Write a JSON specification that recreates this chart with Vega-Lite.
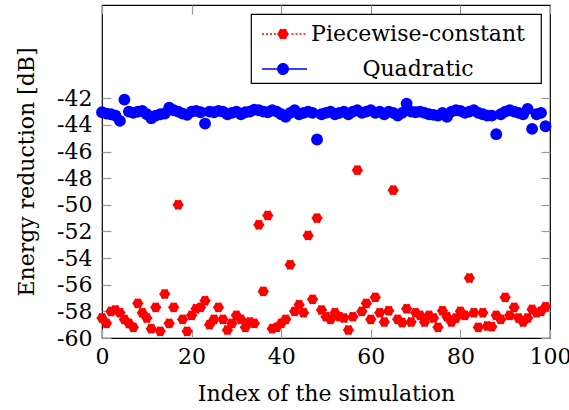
{
"$schema": "https://vega.github.io/schema/vega-lite/v6.json",
"width": 448, "height": 333,
"autosize": "none",
"padding": {"left": 102, "top": 5, "right": 19, "bottom": 72},
"config": {
  "view": {"stroke": "black", "strokeWidth": 1.2},
  "font": "DejaVu Serif",
  "axis": {"domain": false, "grid": false, "labelFont": "DejaVu Serif", "labelFontSize": 22, "labelColor": "black", "tickColor": "#999999", "tickWidth": 1.2, "tickSize": -9, "titleFont": "DejaVu Serif", "titleFontSize": 22, "titleFontWeight": "normal", "titleColor": "black", "labelFlush": false, "labelOverlap": false},
  "legend": {"orient": "top-right", "offset": 9, "padding": 3, "strokeColor": "black", "strokeWidth": 1.2, "fillColor": "white", "labelFont": "DejaVu Serif", "labelFontSize": 22, "labelColor": "black", "labelLimit": 0, "symbolSize": 1156, "symbolStrokeWidth": 0, "labelAlign": "center", "labelOffset": 130, "rowPadding": 7, "cornerRadius": 0}
},
"data": {"values": [
{"i":0,"s":"Piecewise-constant","v":-58.5},{"i":1,"s":"Piecewise-constant","v":-58.9},{"i":2,"s":"Piecewise-constant","v":-58.0},{"i":3,"s":"Piecewise-constant","v":-57.9},{"i":4,"s":"Piecewise-constant","v":-58.1},{"i":5,"s":"Piecewise-constant","v":-58.6},{"i":6,"s":"Piecewise-constant","v":-58.9},{"i":7,"s":"Piecewise-constant","v":-59.2},{"i":8,"s":"Piecewise-constant","v":-57.4},{"i":9,"s":"Piecewise-constant","v":-58.1},
{"i":10,"s":"Piecewise-constant","v":-58.5},{"i":11,"s":"Piecewise-constant","v":-59.3},{"i":12,"s":"Piecewise-constant","v":-57.7},{"i":13,"s":"Piecewise-constant","v":-59.5},{"i":14,"s":"Piecewise-constant","v":-56.7},{"i":15,"s":"Piecewise-constant","v":-58.9},{"i":16,"s":"Piecewise-constant","v":-57.7},{"i":17,"s":"Piecewise-constant","v":-50.0},{"i":18,"s":"Piecewise-constant","v":-58.6},{"i":19,"s":"Piecewise-constant","v":-59.5},
{"i":20,"s":"Piecewise-constant","v":-58.3},{"i":21,"s":"Piecewise-constant","v":-57.8},{"i":22,"s":"Piecewise-constant","v":-57.7},{"i":23,"s":"Piecewise-constant","v":-57.2},{"i":24,"s":"Piecewise-constant","v":-59.0},{"i":25,"s":"Piecewise-constant","v":-58.6},{"i":26,"s":"Piecewise-constant","v":-57.7},{"i":27,"s":"Piecewise-constant","v":-58.6},{"i":28,"s":"Piecewise-constant","v":-59.4},{"i":29,"s":"Piecewise-constant","v":-58.9},
{"i":30,"s":"Piecewise-constant","v":-58.3},{"i":31,"s":"Piecewise-constant","v":-58.6},{"i":32,"s":"Piecewise-constant","v":-59.2},{"i":33,"s":"Piecewise-constant","v":-58.8},{"i":34,"s":"Piecewise-constant","v":-58.9},{"i":35,"s":"Piecewise-constant","v":-51.5},{"i":36,"s":"Piecewise-constant","v":-56.5},{"i":37,"s":"Piecewise-constant","v":-50.8},{"i":38,"s":"Piecewise-constant","v":-59.3},{"i":39,"s":"Piecewise-constant","v":-59.2},
{"i":40,"s":"Piecewise-constant","v":-58.9},{"i":41,"s":"Piecewise-constant","v":-58.6},{"i":42,"s":"Piecewise-constant","v":-54.5},{"i":43,"s":"Piecewise-constant","v":-58.0},{"i":44,"s":"Piecewise-constant","v":-57.5},{"i":45,"s":"Piecewise-constant","v":-58.1},{"i":46,"s":"Piecewise-constant","v":-52.3},{"i":47,"s":"Piecewise-constant","v":-57.1},{"i":48,"s":"Piecewise-constant","v":-51.0},{"i":49,"s":"Piecewise-constant","v":-57.9},
{"i":50,"s":"Piecewise-constant","v":-58.4},{"i":51,"s":"Piecewise-constant","v":-58.6},{"i":52,"s":"Piecewise-constant","v":-58.1},{"i":53,"s":"Piecewise-constant","v":-58.4},{"i":54,"s":"Piecewise-constant","v":-58.5},{"i":55,"s":"Piecewise-constant","v":-59.4},{"i":56,"s":"Piecewise-constant","v":-58.4},{"i":57,"s":"Piecewise-constant","v":-47.4},{"i":58,"s":"Piecewise-constant","v":-58.0},{"i":59,"s":"Piecewise-constant","v":-57.4},
{"i":60,"s":"Piecewise-constant","v":-58.6},{"i":61,"s":"Piecewise-constant","v":-56.95},{"i":62,"s":"Piecewise-constant","v":-58.1},{"i":63,"s":"Piecewise-constant","v":-58.8},{"i":64,"s":"Piecewise-constant","v":-57.95},{"i":65,"s":"Piecewise-constant","v":-48.9},{"i":66,"s":"Piecewise-constant","v":-58.6},{"i":67,"s":"Piecewise-constant","v":-58.85},{"i":68,"s":"Piecewise-constant","v":-57.8},{"i":69,"s":"Piecewise-constant","v":-58.8},
{"i":70,"s":"Piecewise-constant","v":-58.1},{"i":71,"s":"Piecewise-constant","v":-58.3},{"i":72,"s":"Piecewise-constant","v":-58.8},{"i":73,"s":"Piecewise-constant","v":-58.3},{"i":74,"s":"Piecewise-constant","v":-58.5},{"i":75,"s":"Piecewise-constant","v":-59.2},{"i":76,"s":"Piecewise-constant","v":-57.95},{"i":77,"s":"Piecewise-constant","v":-58.4},{"i":78,"s":"Piecewise-constant","v":-58.8},{"i":79,"s":"Piecewise-constant","v":-58.5},
{"i":80,"s":"Piecewise-constant","v":-58.0},{"i":81,"s":"Piecewise-constant","v":-58.3},{"i":82,"s":"Piecewise-constant","v":-55.5},{"i":83,"s":"Piecewise-constant","v":-58.1},{"i":84,"s":"Piecewise-constant","v":-59.2},{"i":85,"s":"Piecewise-constant","v":-58.1},{"i":86,"s":"Piecewise-constant","v":-59.1},{"i":87,"s":"Piecewise-constant","v":-59.15},{"i":88,"s":"Piecewise-constant","v":-58.3},{"i":89,"s":"Piecewise-constant","v":-58.6},
{"i":90,"s":"Piecewise-constant","v":-56.95},{"i":91,"s":"Piecewise-constant","v":-58.3},{"i":92,"s":"Piecewise-constant","v":-57.7},{"i":93,"s":"Piecewise-constant","v":-58.5},{"i":94,"s":"Piecewise-constant","v":-58.8},{"i":95,"s":"Piecewise-constant","v":-58.5},{"i":96,"s":"Piecewise-constant","v":-57.85},{"i":97,"s":"Piecewise-constant","v":-58.1},{"i":98,"s":"Piecewise-constant","v":-58.0},{"i":99,"s":"Piecewise-constant","v":-57.65},
{"i":0,"s":"Quadratic","v":-43.05},{"i":1,"s":"Quadratic","v":-43.15},{"i":2,"s":"Quadratic","v":-43.2},{"i":3,"s":"Quadratic","v":-43.3},{"i":4,"s":"Quadratic","v":-43.7},{"i":5,"s":"Quadratic","v":-42.1},{"i":6,"s":"Quadratic","v":-43.0},{"i":7,"s":"Quadratic","v":-43.1},{"i":8,"s":"Quadratic","v":-43.0},{"i":9,"s":"Quadratic","v":-42.95},
{"i":10,"s":"Quadratic","v":-43.2},{"i":11,"s":"Quadratic","v":-43.5},{"i":12,"s":"Quadratic","v":-43.3},{"i":13,"s":"Quadratic","v":-43.2},{"i":14,"s":"Quadratic","v":-43.15},{"i":15,"s":"Quadratic","v":-42.7},{"i":16,"s":"Quadratic","v":-42.9},{"i":17,"s":"Quadratic","v":-43.0},{"i":18,"s":"Quadratic","v":-43.15},{"i":19,"s":"Quadratic","v":-43.25},
{"i":20,"s":"Quadratic","v":-43.0},{"i":21,"s":"Quadratic","v":-42.95},{"i":22,"s":"Quadratic","v":-43.05},{"i":23,"s":"Quadratic","v":-43.9},{"i":24,"s":"Quadratic","v":-43.0},{"i":25,"s":"Quadratic","v":-43.05},{"i":26,"s":"Quadratic","v":-42.95},{"i":27,"s":"Quadratic","v":-43.0},{"i":28,"s":"Quadratic","v":-43.2},{"i":29,"s":"Quadratic","v":-43.1},
{"i":30,"s":"Quadratic","v":-43.0},{"i":31,"s":"Quadratic","v":-43.2},{"i":32,"s":"Quadratic","v":-43.05},{"i":33,"s":"Quadratic","v":-43.0},{"i":34,"s":"Quadratic","v":-42.85},{"i":35,"s":"Quadratic","v":-42.9},{"i":36,"s":"Quadratic","v":-43.0},{"i":37,"s":"Quadratic","v":-43.05},{"i":38,"s":"Quadratic","v":-42.9},{"i":39,"s":"Quadratic","v":-43.0},
{"i":40,"s":"Quadratic","v":-43.2},{"i":41,"s":"Quadratic","v":-43.4},{"i":42,"s":"Quadratic","v":-43.1},{"i":43,"s":"Quadratic","v":-42.9},{"i":44,"s":"Quadratic","v":-43.2},{"i":45,"s":"Quadratic","v":-43.1},{"i":46,"s":"Quadratic","v":-43.0},{"i":47,"s":"Quadratic","v":-43.1},{"i":48,"s":"Quadratic","v":-45.1},{"i":49,"s":"Quadratic","v":-43.2},
{"i":50,"s":"Quadratic","v":-43.1},{"i":51,"s":"Quadratic","v":-43.0},{"i":52,"s":"Quadratic","v":-43.2},{"i":53,"s":"Quadratic","v":-43.1},{"i":54,"s":"Quadratic","v":-43.0},{"i":55,"s":"Quadratic","v":-43.2},{"i":56,"s":"Quadratic","v":-43.0},{"i":57,"s":"Quadratic","v":-42.9},{"i":58,"s":"Quadratic","v":-43.1},{"i":59,"s":"Quadratic","v":-43.0},
{"i":60,"s":"Quadratic","v":-42.9},{"i":61,"s":"Quadratic","v":-43.1},{"i":62,"s":"Quadratic","v":-43.0},{"i":63,"s":"Quadratic","v":-43.2},{"i":64,"s":"Quadratic","v":-43.0},{"i":65,"s":"Quadratic","v":-43.1},{"i":66,"s":"Quadratic","v":-43.3},{"i":67,"s":"Quadratic","v":-43.1},{"i":68,"s":"Quadratic","v":-42.4},{"i":69,"s":"Quadratic","v":-43.0},
{"i":70,"s":"Quadratic","v":-43.05},{"i":71,"s":"Quadratic","v":-43.0},{"i":72,"s":"Quadratic","v":-43.1},{"i":73,"s":"Quadratic","v":-43.2},{"i":74,"s":"Quadratic","v":-43.25},{"i":75,"s":"Quadratic","v":-43.3},{"i":76,"s":"Quadratic","v":-43.1},{"i":77,"s":"Quadratic","v":-43.4},{"i":78,"s":"Quadratic","v":-43.0},{"i":79,"s":"Quadratic","v":-42.9},
{"i":80,"s":"Quadratic","v":-42.95},{"i":81,"s":"Quadratic","v":-43.1},{"i":82,"s":"Quadratic","v":-43.0},{"i":83,"s":"Quadratic","v":-42.9},{"i":84,"s":"Quadratic","v":-43.1},{"i":85,"s":"Quadratic","v":-43.2},{"i":86,"s":"Quadratic","v":-43.3},{"i":87,"s":"Quadratic","v":-43.3},{"i":88,"s":"Quadratic","v":-44.7},{"i":89,"s":"Quadratic","v":-43.2},
{"i":90,"s":"Quadratic","v":-43.0},{"i":91,"s":"Quadratic","v":-42.9},{"i":92,"s":"Quadratic","v":-43.0},{"i":93,"s":"Quadratic","v":-43.1},{"i":94,"s":"Quadratic","v":-43.2},{"i":95,"s":"Quadratic","v":-42.8},{"i":96,"s":"Quadratic","v":-44.3},{"i":97,"s":"Quadratic","v":-43.2},{"i":98,"s":"Quadratic","v":-43.1},{"i":99,"s":"Quadratic","v":-44.1}
]},
"layer": [
  {
    "transform": [{"filter": "datum.s === 'Piecewise-constant'"}],
    "mark": {"type": "point", "filled": true, "opacity": 1, "color": "#ff0000", "size": 130, "shape": "M1,0L0.693,0.4L0.5,0.866L0,0.8L-0.5,0.866L-0.693,0.4L-1,0L-0.693,-0.4L-0.5,-0.866L0,-0.8L0.5,-0.866L0.693,-0.4Z"},
    "encoding": {
      "x": {"field": "i", "type": "quantitative", "scale": {"domain": [0, 100], "nice": false, "zero": false},
            "axis": {"orient": "bottom", "values": [0, 20, 40, 60, 80, 100], "title": "Index of the simulation", "labelPadding": 17, "titlePadding": 16}},
      "y": {"field": "v", "type": "quantitative", "scale": {"domain": [-60, -35], "nice": false, "zero": false},
            "axis": {"orient": "left", "values": [-60, -58, -56, -54, -52, -50, -48, -46, -44, -42], "labelExpr": "toString(datum.value)", "title": "Energy reduction [dB]", "labelPadding": 19, "titlePadding": 18}}
    }
  },
  {
    "transform": [{"filter": "datum.s === 'Quadratic'"}],
    "mark": {"type": "point", "filled": true, "opacity": 1, "color": "#0000ff", "size": 140, "shape": "circle"},
    "encoding": {
      "x": {"field": "i", "type": "quantitative", "axis": {"orient": "top", "values": [0, 20, 40, 60, 80, 100], "labels": false, "title": null}},
      "y": {"field": "v", "type": "quantitative", "axis": {"orient": "right", "values": [-60, -58, -56, -54, -52, -50, -48, -46, -44, -42], "labels": false, "title": null}}
    }
  },
  {
    "mark": {"type": "point", "filled": true, "opacity": 0},
    "encoding": {
      "x": {"field": "i", "type": "quantitative", "axis": null},
      "y": {"field": "v", "type": "quantitative", "axis": null},
      "color": {"field": "s", "type": "nominal", "scale": {"domain": ["Piecewise-constant", "Quadratic"], "range": ["#ff0000", "#0000ff"]},
                "legend": {"title": null, "encode": {"symbols": {"update": {"opacity": {"value": 1}, "fillOpacity": {"value": 1}}}}}},
      "shape": {"field": "s", "type": "nominal", "scale": {"domain": ["Piecewise-constant", "Quadratic"], "range": [
        "M-1,0M15.7,0M-0.530,-0.047h0.118v0.094h-0.118Z M-0.294,-0.047h0.118v0.094h-0.118Z M-0.059,-0.047h0.118v0.094h-0.118Z M0.176,-0.047h0.118v0.094h-0.118Z M1.206,-0.047h0.118v0.094h-0.118Z M1.441,-0.047h0.118v0.094h-0.118Z M1.676,-0.047h0.118v0.094h-0.118Z M1.912,-0.047h0.118v0.094h-0.118Z M1.059,0L0.950,0.141L0.883,0.306L0.706,0.282L0.530,0.306L0.462,0.141L0.353,0L0.462,-0.141L0.530,-0.306L0.706,-0.282L0.883,-0.306L0.950,-0.141Z",
        "M-1,0M15.7,0M-0.529,-0.047h0.880v0.094h-0.880Z M1.056,-0.047h1.062v0.094h-1.062Z M1.059,0A0.353,0.353 0 1,1 0.353,0A0.353,0.353 0 1,1 1.059,0Z"
      ]}, "legend": {"title": null, "encode": {"symbols": {"update": {"opacity": {"value": 1}, "fillOpacity": {"value": 1}}}}}}
    }
  }
]
}
